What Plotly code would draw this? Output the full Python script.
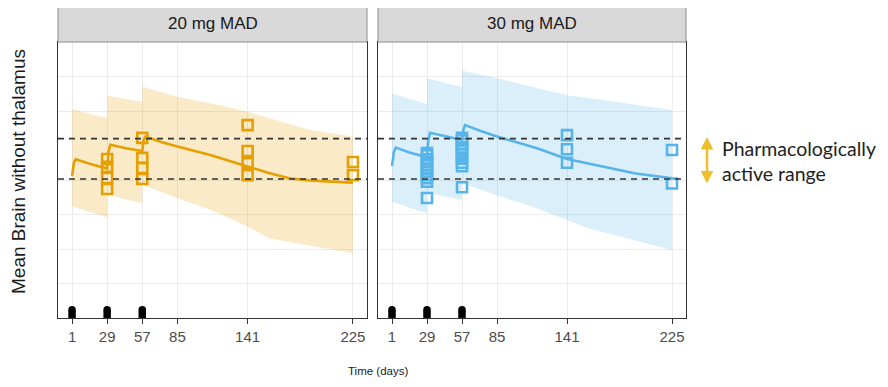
import plotly.graph_objects as go

# ---------------- data ----------------
panels = ["20 mg MAD", "30 mg MAD"]
x_ticks = [1, 29, 57, 85, 141, 225]
dose_days = [1, 29, 57]
active_range = [4.03, 5.2]

ribbon_days = [1, 29, 29, 57, 57, 85, 112, 141, 158, 190, 225]
upper_20 = [6.05, 5.79, 6.44, 6.27, 6.70, 6.41, 6.22, 5.98, 5.80, 5.46, 5.26]
lower_20 = [3.23, 2.92, 3.57, 3.32, 3.86, 3.47, 3.13, 2.65, 2.31, 2.10, 1.88]
upper_30 = [6.51, 6.20, 6.95, 6.69, 7.17, 6.95, 6.71, 6.46, 6.38, 6.21, 6.03]
lower_30 = [3.37, 3.03, 3.62, 3.42, 3.91, 3.55, 3.25, 2.84, 2.60, 2.30, 1.97]

line_days_20 = [1, 2.5, 4, 15, 29, 30, 31.5, 44, 57, 58, 59.5, 72, 85, 100, 112, 126, 141, 158, 174, 190, 205, 225]
line_vals_20 = [4.12, 4.5, 4.6, 4.47, 4.33, 4.8, 5.02, 4.92, 4.84, 5.15, 5.26, 5.1, 4.97, 4.84, 4.72, 4.56, 4.39, 4.2, 4.05, 3.99, 3.96, 3.92]
line_days_30 = [1, 2.5, 4, 15, 29, 30, 31.5, 44, 57, 58, 59.5, 72, 85, 100, 117, 141, 169, 196, 225]
line_vals_30 = [4.41, 4.8, 4.94, 4.80, 4.66, 5.15, 5.37, 5.27, 5.16, 5.45, 5.59, 5.42, 5.26, 5.10, 4.92, 4.61, 4.39, 4.19, 4.05]

obs_days_20 = [29, 29, 29, 29, 57, 57, 57, 57, 141, 141, 141, 141, 225, 225]
obs_vals_20 = [4.61, 4.38, 4.06, 3.74, 5.22, 4.64, 4.35, 4.03, 5.59, 4.84, 4.49, 4.14, 4.52, 4.14]
obs_days_30 = [29] * 11 + [57] * 10 + [141, 141, 141, 225, 225]
obs_vals_30 = [4.78, 4.72, 4.60, 4.52, 4.43, 4.33, 4.24, 4.14, 4.05, 3.95, 3.48,
               5.22, 5.15, 5.05, 4.94, 4.86, 4.74, 4.62, 4.50, 4.40, 3.79,
               5.30, 4.89, 4.50, 4.87, 3.90]

colors = ["#E69F00", "#56B4E9"]
fills = ["rgba(230,159,0,0.22)", "rgba(86,180,233,0.22)"]

# page body has an 8px margin: figure is drawn at (8, 8)
OFF = 8
W, H = 888 - 2 * OFF, 387 - 2 * OFF
def fx(px): return (px - OFF) / W
def fy(py): return (H - (py - OFF)) / H

x_domains = [[fx(58), fx(367)], [fx(378), fx(686)]]
y_domain = [fy(318), fy(42)]

fig = go.Figure()

series = [
    (upper_20, lower_20, line_days_20, line_vals_20, obs_days_20, obs_vals_20),
    (upper_30, lower_30, line_days_30, line_vals_30, obs_days_30, obs_vals_30),
]

font_main = "Liberation Sans, Arial"

for i, (up, lo, ld, lv, od, ov) in enumerate(series):
    xa = "x" if i == 0 else "x2"
    ya = "y" if i == 0 else "y2"
    fig.add_trace(go.Scatter(
        x=ribbon_days + ribbon_days[::-1], y=up + lo[::-1],
        fill="toself", fillcolor=fills[i], line=dict(width=0),
        mode="lines", hoverinfo="skip", showlegend=False, xaxis=xa, yaxis=ya))
    fig.add_trace(go.Scatter(
        x=ld, y=lv, mode="lines", line=dict(color=colors[i], width=2.6),
        showlegend=False, xaxis=xa, yaxis=ya))
    fig.add_trace(go.Scatter(
        x=od, y=ov, mode="markers",
        marker=dict(symbol="square-open", size=10, color=colors[i],
                    line=dict(color=colors[i], width=2.6)),
        showlegend=False, xaxis=xa, yaxis=ya))
    # dose markers (tombstone-like)
    fig.add_trace(go.Scatter(
        x=dose_days, y=[0.24] * len(dose_days), mode="markers",
        marker=dict(symbol="circle", size=7.5, color="black"),
        cliponaxis=False, showlegend=False, xaxis=xa, yaxis=ya))
    fig.add_trace(go.Scatter(
        x=dose_days, y=[0.11] * len(dose_days), mode="markers",
        marker=dict(symbol="square", size=7.5, color="black", line=dict(width=0)),
        cliponaxis=False, showlegend=False, xaxis=xa, yaxis=ya))
    for v in active_range:
        fig.add_shape(type="line", xref=("x domain" if i == 0 else "x2 domain"), yref=ya,
                      x0=0, x1=1, y0=v, y1=v, layer="above",
                      line=dict(color="#333333", width=1.6, dash="6px,5px"))
    # strip
    fig.add_shape(type="rect", xref="paper", yref="paper",
                  x0=x_domains[i][0], x1=x_domains[i][1], y0=y_domain[1], y1=fy(6),
                  fillcolor="#D9D9D9", line=dict(color="#8C8C8C", width=1), layer="above")
    fig.add_annotation(text=panels[i], xref="paper", yref="paper",
                       x=(x_domains[i][0] + x_domains[i][1]) / 2, y=fy(24),
                       xanchor="center", yanchor="middle",
                       showarrow=False, font=dict(size=17, color="#1A1A1A", family=font_main))

axis_common_x = dict(
    range=[-10.2, 236.2], tickvals=x_ticks, ticks="outside", ticklen=5, tickcolor="#333333",
    tickfont=dict(size=15, color="#4D4D4D", family=font_main),
    showgrid=True, gridcolor="#EBEBEB", gridwidth=1, zeroline=False,
    showline=True, linecolor="#333333", linewidth=1, mirror=True)
axis_common_y = dict(
    range=[0, 8], tickvals=[1, 2, 3, 4, 6, 7], showticklabels=False, ticks="",
    showgrid=True, gridcolor="#EBEBEB", gridwidth=1, zeroline=False,
    showline=True, linecolor="#333333", linewidth=1, mirror=True, domain=y_domain)

fig.update_layout(
    width=W, height=H, autosize=False,
    margin=dict(l=0, r=0, t=0, b=0),
    plot_bgcolor="white", paper_bgcolor="white",
    xaxis=dict(axis_common_x, domain=x_domains[0], anchor="y"),
    xaxis2=dict(axis_common_x, domain=x_domains[1], anchor="y2"),
    yaxis=dict(axis_common_y, anchor="x"),
    yaxis2=dict(axis_common_y, anchor="x2"),
    showlegend=False,
)

fig.add_annotation(text="Mean Brain without thalamus", xref="paper", yref="paper",
                   x=fx(18), y=fy(172), xanchor="center", yanchor="middle",
                   textangle=-90, showarrow=False,
                   font=dict(size=19, color="#1A1A1A", family=font_main))
fig.add_annotation(text="Time (days)", xref="paper", yref="paper",
                   x=fx(378), y=0, xanchor="center", yanchor="bottom", showarrow=False,
                   font=dict(size=11.5, color="#1A1A1A", family=font_main))

# pharmacologically active range legend
fig.add_annotation(text="", xref="paper", yref="paper", x=fx(707), y=fy(137),
                   ax=0, ay=48, showarrow=True, arrowhead=2, arrowside="end+start",
                   arrowsize=1, arrowwidth=2.5, arrowcolor="#F0BE2A")
fig.add_annotation(text="Pharmacologically<br>active range", xref="paper", yref="paper",
                   x=fx(720), y=fy(161), xanchor="left", yanchor="middle", align="left",
                   showarrow=False,
                   font=dict(size=19.5, color="#222222", family="Lato, Liberation Sans"))

fig.write_html("out.html")
